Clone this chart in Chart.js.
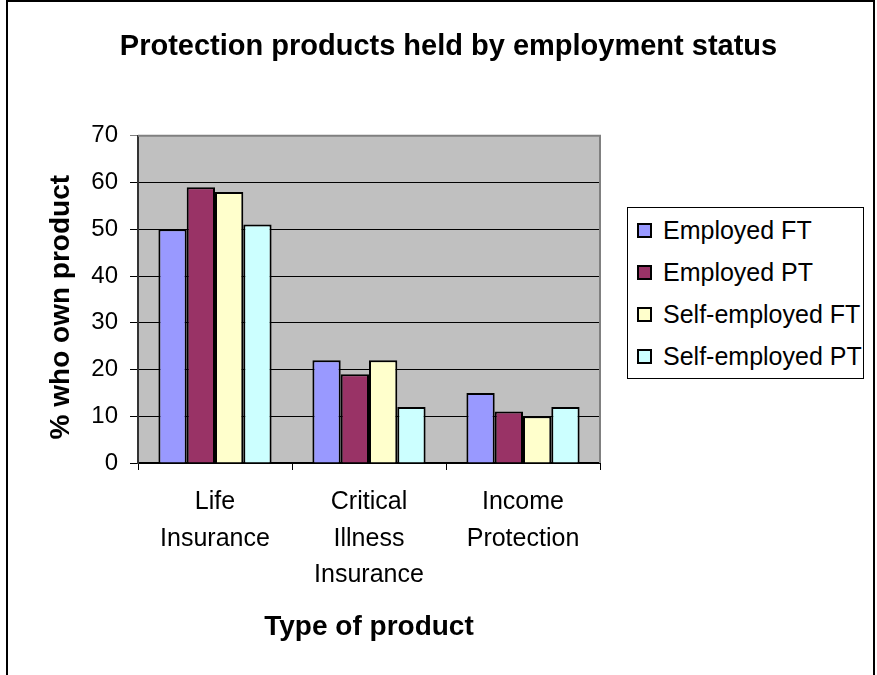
<!DOCTYPE html>
<html>
<head>
<meta charset="utf-8">
<script src="https://cdn.jsdelivr.net/npm/chart.js@4"></script>
<style>
  html, body { margin: 0; padding: 0; background: #fff; }
  #wrap { position: relative; width: 877px; height: 675px; overflow: hidden; }
  #frame { position: absolute; left: 6px; top: 0; width: 865px; height: 700px;
           border-left: 2px solid #000; border-top: 2px solid #000; border-right: 2px solid #000; pointer-events: none; }
  #legend { position: absolute; left: 627px; top: 207px; width: 237px; height: 172px;
            border: 1px solid #000; box-sizing: border-box; background: #fff;
            font-family: 'Liberation Sans', Arial, sans-serif; font-size: 25px; color: #000; padding-top: 1px; }
  .item { height: 42px; display: flex; align-items: center; }
  .swatch { width: 11px; height: 11px; border: 2px solid #000; margin-left: 9px; margin-right: 11px; }
</style>
</head>
<body>
<div id="wrap">
  <canvas id="Chart1" width="877" height="675"></canvas>
  <div id="legend"></div>
  <div id="frame"></div>
</div>
<script>
// values
const categories = [['Life', 'Insurance'], ['Critical', 'Illness', 'Insurance'], ['Income', 'Protection']];
const seriesNames = ['Employed FT', 'Employed PT', 'Self-employed FT', 'Self-employed PT'];
const employedFT = [50, 22, 15];
const employedPT = [59, 19, 11];
const selfEmployedFT = [58, 22, 10];
const selfEmployedPT = [51, 12, 12];
const yMin = 0, yMax = 70, yStep = 10;

// Excel 97 default palette
const colors = ['#9999FF', '#993366', '#FFFFCC', '#CCFFFF'];
const font = "'Liberation Sans', Arial, sans-serif";

const plotBack = {
  id: 'plotBack',
  beforeDraw(chart) {
    const a = chart.chartArea, c = chart.ctx;
    c.save();
    c.fillStyle = '#C0C0C0';
    c.fillRect(a.left, a.top, a.right - a.left, a.bottom - a.top);
    c.restore();
  },
  afterDatasetsDraw(chart) {
    const a = chart.chartArea, c = chart.ctx;
    c.save();
    c.strokeStyle = '#808080';
    c.lineWidth = 2;
    c.beginPath();
    c.moveTo(a.left, a.top);
    c.lineTo(a.right, a.top);
    c.lineTo(a.right, a.bottom);
    c.stroke();
    c.restore();
  }
};

function makeChart() {
  const ctx = document.getElementById('Chart1').getContext('2d');
  const data = [employedFT, employedPT, selfEmployedFT, selfEmployedPT];

  const myChart = new Chart(ctx, {
    type: 'bar',
    data: {
      labels: categories,
      datasets: seriesNames.map(function(name, i) {
        return {
          label: name,
          data: data[i],
          backgroundColor: colors[i],
          borderColor: '#000',
          borderWidth: 2,
          barPercentage: 1,
          categoryPercentage: 0.735
        };
      })
    },
    options: {
      responsive: false,
      animation: false,
      devicePixelRatio: 1,
      layout: { padding: { left: 20, right: 0, top: 0, bottom: 0 } },
      plugins: {
        legend: { display: false },
        tooltip: { enabled: false },
        title: {
          display: true,
          text: 'Protection products held by employment status',
          color: '#000',
          font: { family: font, size: 29, weight: 'bold' },
          padding: { top: 30, bottom: 71 }
        }
      },
      scales: {
        x: {
          afterFit: function(scale) { scale.height = 212; },
          grid: { drawOnChartArea: false, drawTicks: true, tickLength: 7, color: '#000', offset: true },
          border: { color: '#000', width: 2 },
          ticks: {
            color: '#000', autoSkip: false, maxRotation: 0, padding: 14,
            font: { family: font, size: 25, lineHeight: '36.5px' }
          },
          title: {
            display: true, text: 'Type of product', color: '#000',
            font: { family: font, size: 28, weight: 'bold' },
            padding: { top: 0, bottom: 31 }
          }
        },
        y: {
          min: yMin,
          max: yMax,
          afterFit: function(scale) { scale.width = 118; },
          grid: {
            tickLength: 8,
            lineWidth: 1,
            color: function(c) { return c.tick && c.tick.value === yMax ? '#808080' : '#000'; }
          },
          border: { color: '#333', width: 2 },
          ticks: {
            stepSize: yStep, color: '#000', padding: 12,
            font: { family: font, size: 24 }
          },
          title: {
            display: true, text: '% who own product  ', color: '#000',
            font: { family: font, size: 28, weight: 'bold' },
            padding: { top: 24, bottom: 0 }
          }
        },
        // empty box on the right that leaves room for the legend
        yRight: {
          axis: 'y',
          position: 'right',
          afterFit: function(scale) { scale.width = 277; },
          grid: { display: false },
          border: { display: false },
          ticks: { display: false }
        }
      }
    },
    plugins: [plotBack]
  });

  // legend box built from the datasets
  const box = document.getElementById('legend');
  myChart.data.datasets.forEach(function(ds) {
    const row = document.createElement('div');
    row.className = 'item';
    const sw = document.createElement('span');
    sw.className = 'swatch';
    sw.style.background = ds.backgroundColor;
    const txt = document.createElement('span');
    txt.textContent = ds.label;
    row.appendChild(sw);
    row.appendChild(txt);
    box.appendChild(row);
  });
}
makeChart();
</script>
</body>
</html>
